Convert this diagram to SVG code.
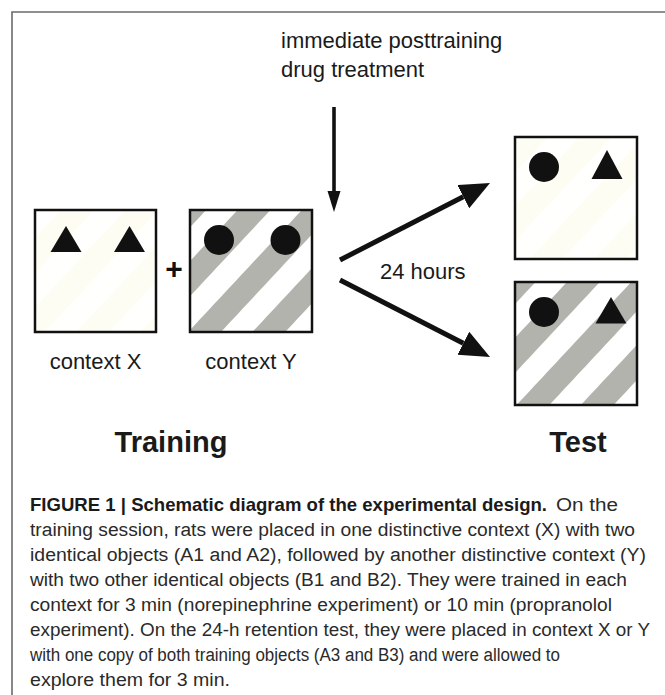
<svg xmlns="http://www.w3.org/2000/svg" width="665" height="695" viewBox="0 0 665 695">
<defs>
<style>
.lbl{font-family:"Liberation Sans",Arial,sans-serif;font-size:22px;fill:#1a1a1a}
.ttl{font-family:"Liberation Sans",Arial,sans-serif;font-size:29px;font-weight:bold;fill:#1a1a1a}
.cap{font-family:"Liberation Sans",Arial,sans-serif;font-size:18.8px;fill:#2a2a2a}
.capb{font-weight:bold;font-size:18.5px;fill:#1a1a1a}
.box{stroke:#111;stroke-width:2.5}
.obj{fill:#111}
.conn{stroke:#111;fill:none}
</style>
<pattern id="grayY" patternUnits="userSpaceOnUse" width="47" height="20" patternTransform="rotate(43) translate(35 0)">
<rect x="0" y="0" width="47" height="20" fill="#ffffff"/>
<rect x="0" y="0" width="24" height="20" fill="#b2b3ad"/>
</pattern>
<pattern id="grayT" patternUnits="userSpaceOnUse" width="47" height="20" patternTransform="rotate(43) translate(43 0)">
<rect x="0" y="0" width="47" height="20" fill="#ffffff"/>
<rect x="0" y="0" width="24" height="20" fill="#b2b3ad"/>
</pattern>
<pattern id="faint" patternUnits="userSpaceOnUse" width="47" height="20" patternTransform="rotate(43)">
<rect x="0" y="0" width="47" height="20" fill="#fffffd"/>
<rect x="0" y="0" width="24" height="20" fill="#fdfdf4"/>
</pattern>
<marker id="headBig" markerUnits="userSpaceOnUse" markerWidth="32" markerHeight="28" refX="0" refY="13" orient="auto">
<path d="M0,0 L30,13 L0,26 Z" fill="#111"/>
</marker>
<marker id="headSmall" markerUnits="userSpaceOnUse" markerWidth="22" markerHeight="14" refX="0" refY="6.5" orient="auto">
<path d="M0,0 L21,6.5 L0,13 Z" fill="#111"/>
</marker>
</defs>
<rect width="665" height="695" fill="#ffffff"/>
<path d="M12,695 V12 H665" fill="none" stroke="#6b6b6b" stroke-width="1.6"/>

<g id="drug-label">
<text class="lbl" x="281" y="48">immediate posttraining</text>
<text class="lbl" x="281" y="77">drug treatment</text>
</g>

<g id="context-x">
<rect class="box" x="35" y="210" width="121" height="122" fill="url(#faint)"/>
<polygon class="obj" points="66,226 81.5,252 50.5,252"/>
<polygon class="obj" points="129.5,226 145,252 114,252"/>
<text class="lbl" x="95.5" y="369" text-anchor="middle">context X</text>
</g>

<g id="plus">
<text x="174" y="279" text-anchor="middle" style="font-family:'Liberation Sans',Arial,sans-serif;font-size:30px;font-weight:bold;fill:#111">+</text>
</g>

<g id="context-y">
<rect class="box" x="190" y="210" width="122" height="122" fill="url(#grayY)"/>
<circle class="obj" cx="219" cy="240" r="15"/>
<circle class="obj" cx="285.5" cy="240" r="15"/>
<text class="lbl" x="251" y="369" text-anchor="middle">context Y</text>
</g>

<g id="test-x">
<rect class="box" x="515" y="137" width="122" height="122" fill="url(#faint)"/>
<circle class="obj" cx="544" cy="167" r="15"/>
<polygon class="obj" points="607,150 622.5,179 591.5,179"/>
</g>

<g id="test-y">
<rect class="box" x="515" y="282" width="122" height="123" fill="url(#grayT)"/>
<circle class="obj" cx="544" cy="312" r="15"/>
<polygon class="obj" points="611,297 626.5,323.5 595.5,323.5"/>
</g>

<g id="titles">
<text class="ttl" x="171" y="452" text-anchor="middle">Training</text>
<text class="ttl" x="578" y="452" text-anchor="middle">Test</text>
</g>

<g id="connectors">
<line class="conn" x1="334" y1="107" x2="334" y2="191" stroke-width="3.6" marker-end="url(#headSmall)"/>
<line class="conn" x1="340" y1="260" x2="463.3" y2="196.7" stroke-width="5" marker-end="url(#headBig)"/>
<line class="conn" x1="340" y1="280" x2="463.3" y2="343.3" stroke-width="5" marker-end="url(#headBig)"/>
<text class="lbl" x="380" y="279">24 hours</text>
</g>

<g id="caption">
<text class="cap capb" x="30" y="511" textLength="517" lengthAdjust="spacingAndGlyphs">FIGURE 1 | Schematic diagram of the experimental design.</text>
<text class="cap" x="556" y="511" textLength="62" lengthAdjust="spacingAndGlyphs">On the</text>
<text class="cap" x="30" y="536" textLength="605" lengthAdjust="spacingAndGlyphs">training session, rats were placed in one distinctive context (X) with two</text>
<text class="cap" x="30" y="561" textLength="616" lengthAdjust="spacingAndGlyphs">identical objects (A1 and A2), followed by another distinctive context (Y)</text>
<text class="cap" x="30" y="586" textLength="597" lengthAdjust="spacingAndGlyphs">with two other identical objects (B1 and B2). They were trained in each</text>
<text class="cap" x="30" y="611" textLength="582" lengthAdjust="spacingAndGlyphs">context for 3 min (norepinephrine experiment) or 10 min (propranolol</text>
<text class="cap" x="30" y="636" textLength="620" lengthAdjust="spacingAndGlyphs">experiment). On the 24-h retention test, they were placed in context X or Y</text>
<text class="cap" x="30" y="661" textLength="530" lengthAdjust="spacingAndGlyphs">with one copy of both training objects (A3 and B3) and were allowed to</text>
<text class="cap" x="30" y="686" textLength="200" lengthAdjust="spacingAndGlyphs">explore them for 3 min.</text>
</g>
</svg>
